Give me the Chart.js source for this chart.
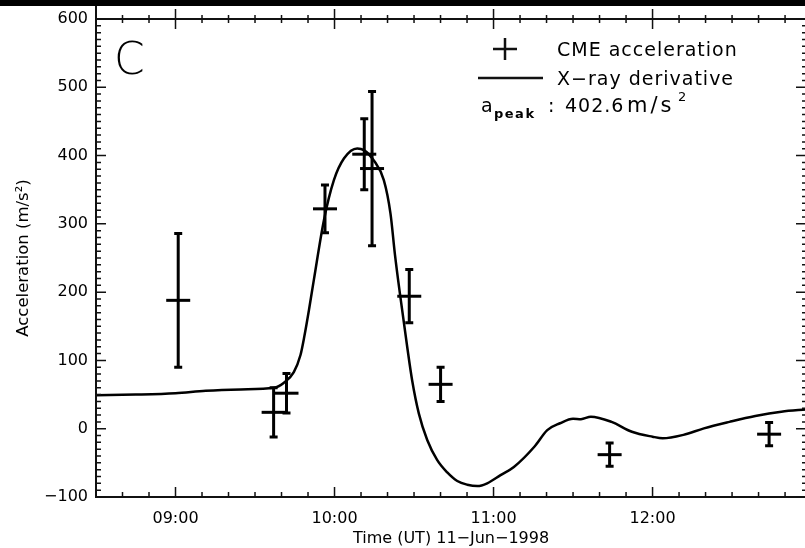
<!DOCTYPE html>
<html>
<head>
<meta charset="utf-8">
<script src="https://cdn.jsdelivr.net/npm/chart.js@4.4.1/dist/chart.umd.min.js"></script>
<style>
  html, body { margin: 0; padding: 0; background: #fff; overflow: hidden; }
  #wrap { width: 807px; height: 548px; }
</style>
</head>
<body>
<div id="wrap"><canvas id="chart" width="807" height="548"></canvas></div>
<script>
// CME acceleration points (time in decimal hours UT)
const cmeTime = [9.017, 9.617, 9.698, 9.94, 10.187, 10.236, 10.47, 10.667, 11.73, 12.733];
const cmeAcc  = [188, 24, 52, 322, 402, 381, 194, 65, -38, -8];
const cmeErr  = [98, 36, 29, 35, 52, 113, 39, 25, 17, 17];

// X-ray derivative curve
const xrayTime = [8.5, 8.75, 9.0, 9.19, 9.41, 9.62, 9.68, 9.744, 9.786, 9.81, 9.84, 9.87, 9.933, 9.996, 10.06,
  10.143, 10.185, 10.247, 10.31, 10.352, 10.38, 10.41, 10.457, 10.488, 10.53, 10.583, 10.646, 10.709,
  10.772, 10.835, 10.898, 10.96, 11.044, 11.128, 11.258, 11.338, 11.418, 11.5, 11.55, 11.612, 11.742,
  11.87, 12.0, 12.064, 12.194, 12.323, 12.484, 12.646, 12.81, 12.97];
const xrayAcc = [49, 50, 52, 55.6, 57.6, 60, 67, 83, 108, 135, 175, 218, 305, 364, 396,
  410.5, 408, 393, 364, 315, 255, 200, 120, 71, 22.5, -16.5, -46, -64,
  -76.6, -82, -84, -80, -68, -56, -26, -2, 8, 14.6, 14, 17.6, 10,
  -4.4, -11.7, -14, -9, 0.5, 10, 18.6, 25, 28.4];

const hourTicks = [9, 10, 11, 12];
const accTicks = [-100, 0, 100, 200, 300, 400, 500, 600];

const fmtHour = v => String(v).padStart(2, '0') + ':00';
const fmtAcc = v => v < 0 ? '\u2212' + Math.abs(v) : String(v);

// 축, 오차막대, 범례
const frame = {
  id: 'frame',
  beforeDraw(chart) {
    const ctx = chart.ctx;
    ctx.save();
    ctx.fillStyle = '#000';
    ctx.fillRect(0, 0, chart.width, 6);
    ctx.restore();
  },
  afterDatasetsDraw(chart) {
    const { ctx, chartArea: a, scales: { x, y } } = chart;
    ctx.save();
    ctx.strokeStyle = '#000';
    ctx.lineWidth = 3;
    cmeTime.forEach((t, i) => {
      const px = x.getPixelForValue(t);
      const y1 = y.getPixelForValue(cmeAcc[i] + cmeErr[i]);
      const y2 = y.getPixelForValue(cmeAcc[i] - cmeErr[i]);
      ctx.beginPath();
      ctx.moveTo(px, y1); ctx.lineTo(px, y2);
      ctx.moveTo(px - 4, y1); ctx.lineTo(px + 4, y1);
      ctx.moveTo(px - 4, y2); ctx.lineTo(px + 4, y2);
      ctx.stroke();
    });

    // box
    ctx.strokeStyle = '#111';
    ctx.lineWidth = 2;
    ctx.beginPath();
    ctx.moveTo(a.left, 6); ctx.lineTo(a.left, a.bottom); ctx.lineTo(a.right, a.bottom);
    ctx.lineTo(a.right, a.top); ctx.lineTo(a.left - 1, a.top);
    ctx.stroke();

    // ticks
    ctx.lineWidth = 1.5;
    ctx.beginPath();
    for (let k = Math.ceil(x.min * 6); k <= Math.floor(x.max * 6); k++) {
      const px = x.getPixelForValue(k / 6);
      const major = k % 6 === 0;
      const len = major ? 10 : 5;
      ctx.moveTo(px, a.bottom); ctx.lineTo(px, a.bottom - len);
      const up = major ? 10 : 4;
      ctx.moveTo(px, a.top - up); ctx.lineTo(px, a.top + up);
    }
    for (let v = y.min; v <= y.max; v += 10) {
      const py = y.getPixelForValue(v);
      const major = v % 100 === 0;
      const len = major ? 10 : 5;
      ctx.moveTo(a.left, py); ctx.lineTo(a.left + len, py);
      ctx.moveTo(a.right, py); ctx.lineTo(a.right - (major ? 10 : 4), py);
    }
    ctx.stroke();

    // panel letter
    ctx.fillStyle = '#000';
    ctx.font = '200 44px "DejaVu Sans"';
    ctx.textBaseline = 'alphabetic';
    ctx.fillText('C', 114, 74);

    // legend
    ctx.lineWidth = 2.5;
    ctx.beginPath();
    ctx.moveTo(493, 49); ctx.lineTo(517, 49);
    ctx.moveTo(505, 38); ctx.lineTo(505, 60);
    ctx.moveTo(478, 78); ctx.lineTo(543, 78);
    ctx.stroke();
    ctx.letterSpacing = '1px';
    ctx.font = '19px "DejaVu Sans"';
    ctx.fillText('CME acceleration', 557, 56);
    ctx.fillText('X\u2212ray derivative', 557, 85);
    ctx.fillText('a', 481, 112);
    ctx.fillText(':', 548, 112);
    ctx.fillText('402.6', 565, 112);
    ctx.font = '21px "DejaVu Sans"';
    ctx.letterSpacing = '3px';
    ctx.fillText('m/s', 627, 112);
    ctx.font = 'bold 13px "DejaVu Sans"';
    ctx.letterSpacing = '1.5px';
    ctx.fillText('peak', 494, 118);
    ctx.letterSpacing = '0px';
    ctx.font = '13px "DejaVu Sans"';
    ctx.fillText('2', 678, 101);
    ctx.restore();
  }
};

new Chart(document.getElementById('chart'), {
  data: {
    datasets: [
      {
        type: 'line', label: 'X-ray derivative',
        data: xrayTime.map((t, i) => ({ x: t, y: xrayAcc[i] })),
        borderColor: '#000', borderWidth: 2.5, pointRadius: 0, tension: 0,
        cubicInterpolationMode: 'monotone', fill: false,
      },
      {
        type: 'scatter', label: 'CME acceleration',
        data: cmeTime.map((t, i) => ({ x: t, y: cmeAcc[i] })),
        pointStyle: 'line', pointRadius: 12, borderColor: '#000', borderWidth: 3,
      },
    ],
  },
  options: {
    responsive: false, animation: false,
    layout: { autoPadding: false, padding: { top: 19, right: 1, left: 0, bottom: 0 } },
    plugins: { legend: { display: false }, tooltip: { enabled: false } },
    scales: {
      x: {
        type: 'linear', min: 8.5, max: 12.965,
        afterBuildTicks: s => { s.ticks = hourTicks.map(v => ({ value: v })); },
        afterFit: s => { s.height = 51; },
        grid: { display: false, drawTicks: false }, border: { display: false },
        ticks: { callback: fmtHour, color: '#000', padding: 12, autoSkip: false, maxRotation: 0,
          font: { family: 'DejaVu Sans', size: 16 } },
        title: { display: true, text: 'Time (UT) 11\u2212Jun\u22121998', color: '#000',
          font: { family: 'DejaVu Sans', size: 16 }, padding: { top: 0, bottom: 0 } },
      },
      y: {
        type: 'linear', min: -100, max: 600,
        afterBuildTicks: s => { s.ticks = accTicks.map(v => ({ value: v })); },
        afterFit: s => { s.width = 96; },
        grid: { display: false, drawTicks: false }, border: { display: false },
        ticks: { callback: fmtAcc, color: '#000', padding: 8, autoSkip: false,
          font: { family: 'DejaVu Sans', size: 16 } },
        title: { display: true, text: 'Acceleration (m/s\u00b2)', color: '#000',
          font: { family: 'DejaVu Sans', size: 16.5 }, padding: { top: 14, bottom: 0 } },
      },
    },
  },
  plugins: [frame],
});
</script>
</body>
</html>
